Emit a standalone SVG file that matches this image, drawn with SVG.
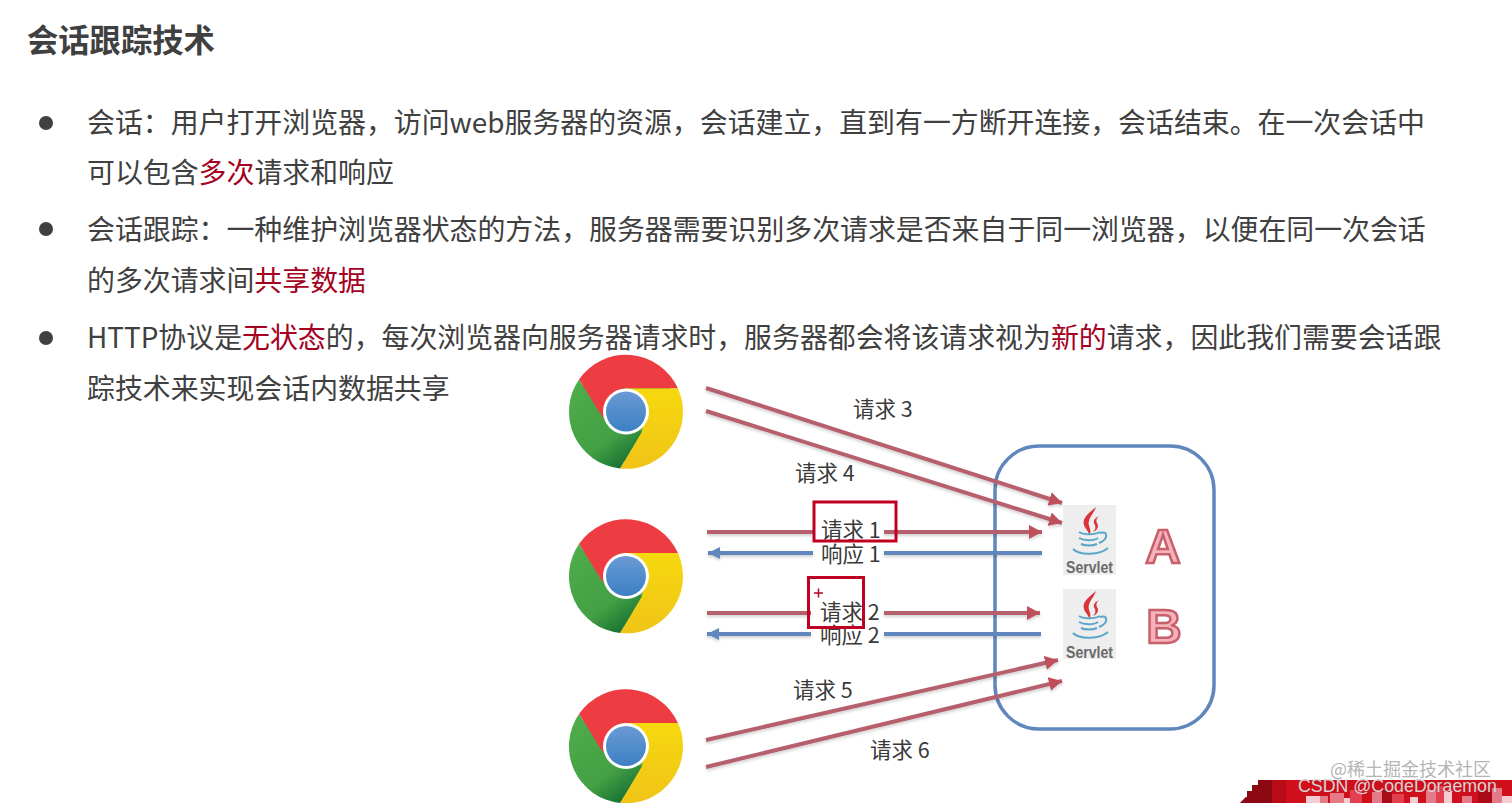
<svg xmlns="http://www.w3.org/2000/svg" width="1512" height="803" viewBox="0 0 1512 803">
<style>
text{font-family:"Noto Sans CJK SC","Noto Sans",sans-serif}
.t{font-size:27.9px;fill:#404040}
.r{fill:#a50021}
.h{font-size:31.3px;font-weight:700;fill:#404040}
.l{font-size:21.5px;fill:#3a3a3a}
.cr{stroke:#b5606c;stroke-width:4;fill:none}
.cb{stroke:#5f87bd;stroke-width:4;fill:none}
.a{marker-end:url(#mr)}
.b{marker-end:url(#mb)}
.box{fill:none;stroke:#c00020;stroke-width:3}
.sv{font-family:"Liberation Sans",Arial,sans-serif;font-size:16px;font-weight:700;fill:#6a6a6a}
.big{font-family:"Liberation Sans",Arial,sans-serif;font-size:49px;font-weight:700;fill:#f5b2ba;stroke:#c8606c;stroke-width:2.5;text-anchor:middle}
.p1{fill:#f4ccd2}.p2{fill:#e47a88}.p3{fill:#e2404e}.p4{fill:#a80a18}
</style>
<defs>
<filter id="sh" x="-5%" y="-5%" width="110%" height="110%"><feDropShadow dx="0" dy="2" stdDeviation="1.5" flood-color="#000" flood-opacity="0.18"/></filter>
<marker id="mr" markerUnits="userSpaceOnUse" markerWidth="15" markerHeight="15" refX="13" refY="7.5" orient="auto"><path d="M0 0.500L13 7.500L0 14.500Z" fill="#c0505c"/></marker>
<marker id="mb" markerUnits="userSpaceOnUse" markerWidth="14" markerHeight="14" refX="12" refY="7" orient="auto"><path d="M0 1L12 7L0 13Z" fill="#5f87bd"/></marker>
<linearGradient id="gy" x1="0" y1="0" x2="0" y2="1"><stop offset="0" stop-color="#f6d80e"/><stop offset="1" stop-color="#f0c418"/></linearGradient>
<linearGradient id="gg" x1="0.2" y1="0" x2="0.8" y2="1"><stop offset="0" stop-color="#4fac4a"/><stop offset="0.65" stop-color="#43a044"/><stop offset="1" stop-color="#136b30"/></linearGradient>
<linearGradient id="gb" x1="0" y1="0" x2="0" y2="1"><stop offset="0" stop-color="#6a9ad4"/><stop offset="1" stop-color="#3c80c4"/></linearGradient>
<g id="chrome">
<circle r="50" fill="#4fac4a"/>
<path d="M-47 -32A57 57 0 0 1 52 -23L0 -23C-12 -23 -23 -12 -23 7Z" fill="#ee3d42"/>
<path d="M52 -23A57 57 0 0 1 -6 57L16 20L20 -5L0 -23Z" fill="url(#gy)"/>
<path d="M-47 -32A57 57 0 0 0 -6 57L16 20L-23 7Z" fill="url(#gg)"/>
<circle r="23" fill="#fff"/>
<circle r="20" fill="url(#gb)"/>
</g>
<g id="servlet">
<rect width="53" height="70" fill="#eeeeee"/>
<path d="M33 2C25 9 19 13 21 20C22 24 26 26 26 30C30 25 24 21 26 16C27 11 31 8 33 2Z" fill="#d9343a"/>
<path d="M36 11C30 14 30 17 32 20C33 23 32 25 30 27C35 25 36 21 34 18C33 16 33 14 36 11Z" fill="#d9343a"/>
<g fill="none" stroke="#5aa6c8" stroke-width="2"><path d="M16 27C20 30 32 30 37 27"/><path d="M16 33C21 36 31 36 35 33"/><path d="M18 39C22 41 30 41 34 39"/><path d="M37 28C45 25 46 34 36 38"/><path d="M10 44C17 51 37 50 45 43"/></g>
</g>
</defs>
<rect width="1512" height="803" fill="#fff"/>
<g id="slide-text">
<text class="h" x="27" y="52">会话跟踪技术</text>
<circle cx="46" cy="123" r="7" fill="#404040"/>
<text class="t" x="87" y="133">会话：用户打开浏览器，访问web服务器的资源，会话建立，直到有一方断开连接，会话结束。在一次会话中</text>
<text class="t" x="87" y="183">可以包含<tspan class="r">多次</tspan>请求和响应</text>
<circle cx="46" cy="229" r="7" fill="#404040"/>
<text class="t" x="87" y="240">会话跟踪：一种维护浏览器状态的方法，服务器需要识别多次请求是否来自于同一浏览器，以便在同一次会话</text>
<text class="t" x="87" y="291">的多次请求间<tspan class="r">共享数据</tspan></text>
<circle cx="46" cy="338" r="7" fill="#404040"/>
<text class="t" x="87" y="348">HTTP协议是<tspan class="r">无状态</tspan>的，每次浏览器向服务器请求时，服务器都会将该请求视为<tspan class="r">新的</tspan>请求，因此我们需要会话跟</text>
<text class="t" x="87" y="399">踪技术来实现会话内数据共享</text>
</g>
<g id="server-box"><rect x="995" y="446" width="219" height="283" rx="44" fill="none" stroke="#5f87bd" stroke-width="3.500"/></g>
<g id="connectors" filter="url(#sh)">
<path class="cr a" d="M706 388L1062 503"/>
<path class="cr a" d="M706 411L1062 523"/>
<path class="cr" d="M707 532H813"/><path class="cr a" d="M884 532H1042"/>
<path class="cb" d="M884 553H1042"/><path class="cb b" d="M813 553H708"/>
<path class="cr" d="M707 613H811"/><path class="cr a" d="M884 613H1040"/>
<path class="cb" d="M884 634H1041"/><path class="cb b" d="M811 634H707"/>
<path class="cr a" d="M706 740L1058 660"/>
<path class="cr a" d="M706 767L1062 681"/>
</g>
<g id="browser-1"><use href="#chrome" x="626" y="411.500"/></g>
<g id="browser-2"><use href="#chrome" x="626" y="576"/></g>
<g id="browser-3"><use href="#chrome" x="626" y="746"/></g>
<g id="servlet-a"><use href="#servlet" x="1063" y="505"/><text class="sv" x="1066" y="573" textLength="47" lengthAdjust="spacingAndGlyphs">Servlet</text><text class="big" x="1163" y="563">A</text></g>
<g id="servlet-b"><use href="#servlet" x="1063" y="589"/><text class="sv" x="1066" y="658" textLength="47" lengthAdjust="spacingAndGlyphs">Servlet</text><text class="big" x="1164" y="643">B</text></g>
<g id="labels">
<text class="l" x="853" y="417">请求 3</text>
<text class="l" x="795" y="481">请求 4</text>
<text class="l" x="821" y="538">请求 1</text>
<text class="l" x="821" y="562">响应 1</text>
<text class="l" x="820" y="620">请求 2</text>
<text class="l" x="820" y="643">响应 2</text>
<text class="l" x="793" y="698">请求 5</text>
<text class="l" x="870" y="758">请求 6</text>
</g>
<g id="highlights">
<rect class="box" x="814" y="502" width="82" height="39"/>
<rect class="box" x="808.500" y="577.500" width="55" height="50"/>
<path d="M814 593H823M818.500 588.500V597.500" stroke="#c00020" stroke-width="1.500"/>
</g>
<g id="footer">
<path d="M1240 803L1246 797H1247V791H1252V785H1258V780H1512V803Z" fill="#d00f1c"/>
<path d="M1240 803L1246 797H1247V791H1252V785H1258V780H1272V803Z" fill="#8c0812"/>
<rect x="1272" y="780" width="14" height="23" fill="#b80c18"/>
<rect class="p1" x="1306" y="796" width="14" height="7"/><rect class="p2" x="1320" y="796" width="8" height="7"/>
<rect class="p2" x="1330" y="793" width="14" height="10"/><rect class="p1" x="1344" y="798" width="6" height="5"/><rect class="p3" x="1350" y="790" width="12" height="13"/>
<rect class="p2" x="1372" y="792" width="10" height="11"/><rect class="p4" x="1382" y="790" width="10" height="13"/><rect class="p3" x="1392" y="794" width="12" height="9"/><rect class="p1" x="1410" y="797" width="8" height="6"/>
<rect class="p2" x="1426" y="790" width="10" height="13"/><rect class="p3" x="1436" y="786" width="8" height="17"/><rect class="p1" x="1444" y="792" width="8" height="11"/><rect class="p2" x="1462" y="796" width="10" height="7"/>
<rect class="p4" x="1478" y="790" width="14" height="13"/><rect class="p2" x="1492" y="788" width="10" height="15"/><rect class="p1" x="1502" y="796" width="10" height="7"/>
<text x="1330" y="776" font-size="18" fill="#b5b5b5">@稀土掘金技术社区</text>
<text x="1298" y="792" font-size="17.800" fill="#d4d4d4" style="font-family:'Liberation Sans',sans-serif">CSDN @CodeDoraemon</text>
</g>
</svg>
